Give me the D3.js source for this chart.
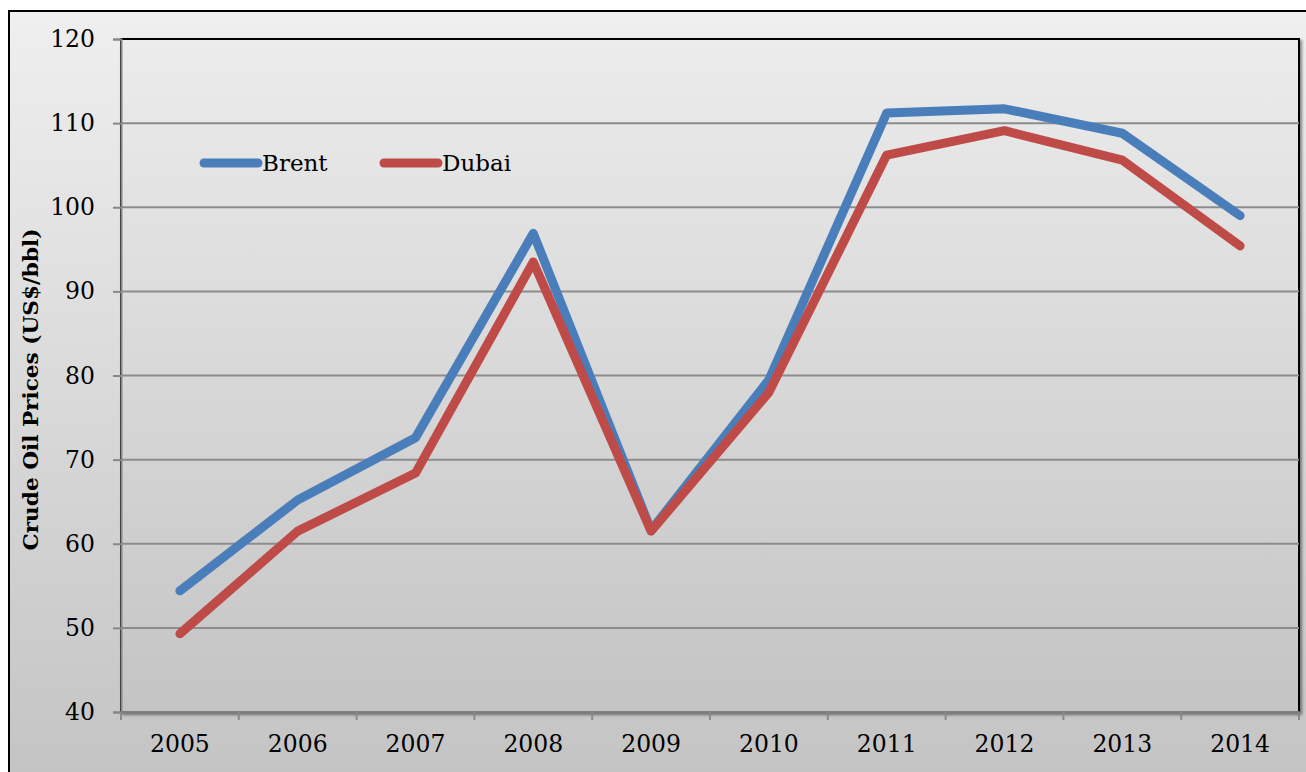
<!DOCTYPE html>
<html>
<head>
<meta charset="utf-8">
<script src="https://cdn.jsdelivr.net/npm/d3@7"></script>
<style>
  html, body { margin: 0; padding: 0; background: #fff; }
  svg text { font-family: "DejaVu Serif", "Liberation Serif", serif; fill: #000; }
</style>
</head>
<body>
<div id="chart"></div>
<script>
// data
const years = ["2005", "2006", "2007", "2008", "2009", "2010", "2011", "2012", "2013", "2014"];
const brent = [54.4, 65.2, 72.6, 96.9, 61.6, 79.5, 111.2, 111.7, 108.8, 99.0];
const dubai = [49.3, 61.5, 68.4, 93.5, 61.5, 78.0, 106.2, 109.1, 105.6, 95.4];
const yTicks = [40, 50, 60, 70, 80, 90, 100, 110, 120];
const seriesNames = ["Brent", "Dubai"];
const seriesColors = ["#4a7ebb", "#be4b48"];

const width = 1306;
const height = 772;
const margin = { top: 39, right: 7, bottom: 60, left: 121 };
const plotW = width - margin.left - margin.right;
const plotH = height - margin.top - margin.bottom;

const svg = d3.select("#chart")
    .append("svg")
    .attr("width", width)
    .attr("height", height);

const defs = svg.append("defs");

const bgGrad = defs.append("linearGradient")
    .attr("id", "bg")
    .attr("x1", 0).attr("y1", 0).attr("x2", 0).attr("y2", 1);
bgGrad.append("stop").attr("offset", "0%").attr("stop-color", "#efefef");
bgGrad.append("stop").attr("offset", "100%").attr("stop-color", "#c3c3c3");

const plotGrad = defs.append("linearGradient")
    .attr("id", "plotbg")
    .attr("x1", 0).attr("y1", 0).attr("x2", 0).attr("y2", 1);
plotGrad.append("stop").attr("offset", "0%").attr("stop-color", "#ececec");
plotGrad.append("stop").attr("offset", "100%").attr("stop-color", "#c4c4c4");

const shadow = defs.append("filter")
    .attr("id", "shadow")
    .attr("x", "-5%").attr("y", "-5%").attr("width", "110%").attr("height", "110%");
shadow.append("feDropShadow")
    .attr("dx", 2).attr("dy", 2).attr("stdDeviation", 1.5)
    .attr("flood-color", "#000").attr("flood-opacity", 0.45);

// outer chart frame (runs past the bottom/right of the picture)
svg.append("rect")
    .attr("x", 0).attr("y", 0)
    .attr("width", width).attr("height", height)
    .attr("fill", "#fff");
svg.append("rect")
    .attr("x", 9).attr("y", 11)
    .attr("width", width + 10).attr("height", height + 10)
    .attr("fill", "url(#bg)")
    .attr("stroke", "#000")
    .attr("stroke-width", 2);

const x = d3.scaleBand()
    .domain(years)
    .range([0, plotW]);

const y = d3.scaleLinear()
    .domain([40, 120])
    .range([plotH, 0]);

const g = svg.append("g")
    .attr("transform", "translate(" + margin.left + "," + margin.top + ")");

// plot area
g.append("rect")
    .attr("width", plotW)
    .attr("height", plotH)
    .attr("fill", "url(#plotbg)")
    .attr("stroke", "#000")
    .attr("stroke-width", 2)
    .attr("filter", "url(#shadow)");

// gridlines
g.append("g")
    .selectAll("line")
    .data(yTicks.slice(1, -1))
    .enter()
    .append("line")
    .attr("x1", 0).attr("x2", plotW)
    .attr("y1", d => y(d)).attr("y2", d => y(d))
    .attr("stroke", "#8c8c8c")
    .attr("stroke-width", 2);

// y axis
const yaxis = d3.axisLeft(y)
    .tickValues(yTicks)
    .tickSize(8)
    .tickPadding(18);
const yg = g.append("g").call(yaxis);
yg.select(".domain").attr("stroke", "#878787").attr("stroke-width", 2);
yg.selectAll(".tick line").attr("stroke", "#878787").attr("stroke-width", 2);
yg.selectAll(".tick text").style("font-size", "23.5px");

// x axis
const xaxis = d3.axisBottom(x)
    .tickSize(0)
    .tickPadding(23);
const xg = g.append("g")
    .attr("transform", "translate(0," + plotH + ")")
    .call(xaxis);
xg.select(".domain").attr("stroke", "#7d7d7d").attr("stroke-width", 3);
xg.selectAll(".tick text").style("font-size", "23.5px");

// small tick marks between categories
xg.selectAll(".sep")
    .data(d3.range(0, years.length + 1))
    .enter()
    .append("line")
    .attr("class", "sep")
    .attr("x1", i => i * x.bandwidth()).attr("x2", i => i * x.bandwidth())
    .attr("y1", 0).attr("y2", 8)
    .attr("stroke", "#8a8a8a")
    .attr("stroke-width", 2);

// y axis title
svg.append("text")
    .attr("transform", "translate(38," + (margin.top + plotH / 2 + 14) + ") rotate(-90)")
    .attr("text-anchor", "middle")
    .style("font-size", "21px")
    .style("font-weight", "bold")
    .attr("textLength", 322)
    .attr("lengthAdjust", "spacingAndGlyphs")
    .text("Crude Oil Prices (US$/bbl)");

// lines
const line = d3.line()
    .x((d, i) => x(years[i]) + x.bandwidth() / 2)
    .y(d => y(d));

[brent, dubai].forEach(function(values, i) {
    g.append("path")
        .attr("d", line(values))
        .attr("fill", "none")
        .attr("stroke", seriesColors[i])
        .attr("stroke-width", 9)
        .attr("stroke-linejoin", "round")
        .attr("stroke-linecap", "round");
});

// legend
const legend = svg.append("g")
    .attr("transform", "translate(204,163)");
seriesNames.forEach(function(name, i) {
    const lg = legend.append("g").attr("transform", "translate(" + (i * 180) + ",0)");
    lg.append("line")
        .attr("x1", 0).attr("x2", 54)
        .attr("y1", 0).attr("y2", 0)
        .attr("stroke", seriesColors[i])
        .attr("stroke-width", 9)
        .attr("stroke-linecap", "round");
    lg.append("text")
        .attr("x", 58)
        .attr("y", 8)
        .style("font-size", "23px")
        .text(name);
});
</script>
</body>
</html>
